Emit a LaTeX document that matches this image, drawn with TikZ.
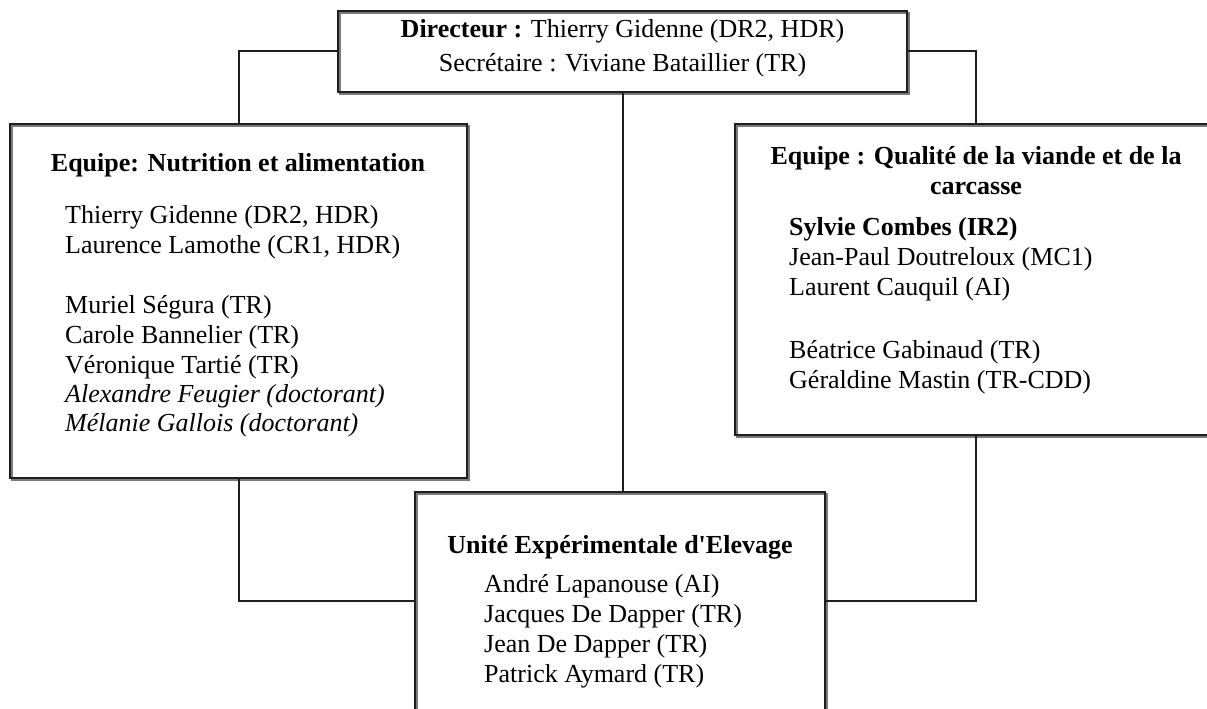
\documentclass[tikz,border=0pt]{standalone}
\usepackage{fontspec}
\setmainfont{Liberation Serif}
\definecolor{linecol}{HTML}{1E1E1E}
\definecolor{shadecol}{HTML}{7A7A7A}
\begin{document}
\begin{tikzpicture}[x=1pt,y=-1pt,
  box/.style={draw=linecol, line width=2.2pt, rectangle, inner sep=0pt,
    preaction={draw=shadecol, line width=2pt, transform canvas={shift={(1.8,1.8)}}}},
  conn/.style={draw=linecol, line width=2pt},
  ttl/.style={anchor=base, inner sep=0pt, font=\fontsize{26}{30}\selectfont\bfseries},
  txt/.style={anchor=base west, inner sep=0pt, font=\fontsize{26}{30}\selectfont},
  ctr/.style={anchor=base, inner sep=0pt, font=\fontsize{26}{30}\selectfont}]
\useasboundingbox[fill=white] (0,0) rectangle (1207,709);
\clip (0,0) rectangle (1207,709);

% boxes
\node[box, minimum width=569pt, minimum height=81pt]  (dir)  at (622.5,51.5) {};
\node[box, minimum width=457pt, minimum height=354pt] (nut)  at (238.5,301) {};
\node[box, minimum width=482pt, minimum height=311pt] (qual) at (976,279.5) {};
\node[box, minimum width=410pt, minimum height=268pt] (uee)  at (620,626) {};

% connector end points on the lower box sides
\coordinate (uw) at (415,601);
\coordinate (ue) at (825,601);

% connectors
\draw[conn] (dir.west) -| (nut.north);
\draw[conn] (dir.east) -| (qual.north);
\draw[conn] (dir.south) -- (dir.south |- uee.north);
\draw[conn] (nut.south) |- (uw);
\draw[conn] (qual.south) |- (ue);

% top box
\node[ctr] (d1) at (622.5,38) {\textbf{Directeur :} Thierry Gidenne (DR2, HDR)};
\node[ctr] (d2) at (622.5,71) {Secrétaire : Viviane Bataillier (TR)};

% left box
\node[ttl] (n0) at (238,171) {Equipe: Nutrition et alimentation};
\node[txt] (n1) at (65,223) {Thierry Gidenne (DR2, HDR)};
\node[txt] (n2) at (65,253) {Laurence Lamothe (CR1, HDR)};
\node[txt] (n3) at (65,313) {Muriel Ségura (TR)};
\node[txt] (n4) at (65,343) {Carole Bannelier (TR)};
\node[txt] (n5) at (65,373) {Véronique Tartié (TR)};
\node[txt] (n6) at (65,402) {\itshape Alexandre Feugier (doctorant)};
\node[txt] (n7) at (65,431) {\itshape Mélanie Gallois (doctorant)};

% right box
\node[ttl] (q0) at (976,164) {Equipe : Qualité de la viande et de la};
\node[ttl] (q0b) at (976,194) {carcasse};
\node[txt] (q1) at (789,235) {\bfseries Sylvie Combes (IR2)};
\node[txt] (q2) at (789,265) {Jean-Paul Doutreloux (MC1)};
\node[txt] (q3) at (789,295) {Laurent Cauquil (AI)};
\node[txt] (q4) at (789,358) {Béatrice Gabinaud (TR)};
\node[txt] (q5) at (789,388) {Géraldine Mastin (TR-CDD)};

% bottom box
\node[ttl] (u0) at (620,553) {Unité Expérimentale d\textquotesingle Elevage};
\node[txt] (u1) at (484,592) {André Lapanouse (AI)};
\node[txt] (u2) at (484,622) {Jacques De Dapper (TR)};
\node[txt] (u3) at (484,652) {Jean De Dapper (TR)};
\node[txt] (u4) at (484,682) {Patrick Aymard (TR)};
\end{tikzpicture}
\end{document}
